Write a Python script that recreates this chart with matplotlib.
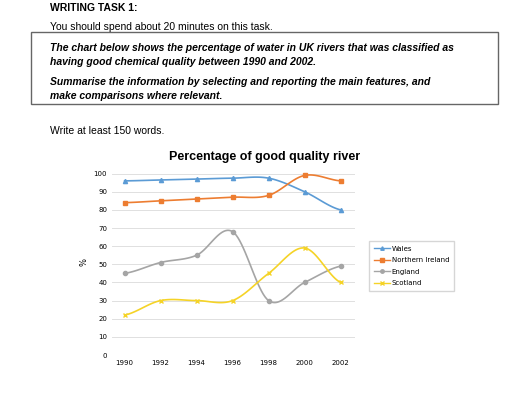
import numpy as np
import matplotlib
matplotlib.use("Agg")
import matplotlib.pyplot as plt
from matplotlib.patches import Rectangle

years = [1990, 1992, 1994, 1996, 1998, 2000, 2002]
wales = [96, 96.5, 97, 97.5, 97.5, 90, 80]
n_ireland = [84, 85, 86, 87, 88, 99, 96]
england = [45, 51, 55, 68, 30, 40, 49]
scotland = [22, 30, 30, 30, 45, 59, 40]
series_names = ["Wales", "Northern Ireland", "England", "Scotland"]
colors = ["#5b9bd5", "#ed7d31", "#a5a5a5", "#f5d327"]
markers = ["^", "s", "o", "x"]

W, H = 512, 417
fig = plt.figure(figsize=(W/100, H/100), dpi=100)
def px(x, y):
    return x / W, 1 - y / H

f = "Liberation Sans"
fig.text(*px(50, 8), "WRITING TASK 1:", fontsize=7.5, fontweight="bold", family=f, va="center")
fig.text(*px(50, 27), "You should spend about 20 minutes on this task.", fontsize=7.5, family=f, va="center")
fig.add_artist(Rectangle(px(31, 104), 467/W, 72/H, fill=False, ec="#666666", lw=1, transform=fig.transFigure))
for y, t in [(48, "The chart below shows the percentage of water in UK rivers that was classified as"),
             (62, "having good chemical quality between 1990 and 2002."),
             (82, "Summarise the information by selecting and reporting the main features, and"),
             (96, "make comparisons where relevant.")]:
    fig.text(*px(50, y), t, fontsize=7.5, fontweight="bold", style="italic", family=f, va="center")
fig.text(*px(50, 131), "Write at least 150 words.", fontsize=7.5, family=f, va="center")

l, r, t, b = 112, 355, 170, 355
ax = fig.add_axes([l/W, 1 - b/H, (r-l)/W, (b-t)/H])
fig.text(*px(265, 157), "Percentage of good quality river", fontsize=9, fontweight="bold", family=f, ha="center", va="center")

def smooth(x, y, n=20):
    x = np.asarray(x, float); y = np.asarray(y, float)
    xs, ys = [], []
    for i in range(len(x) - 1):
        p0 = y[i-1] if i > 0 else y[i]
        p3 = y[i+2] if i + 2 < len(y) else y[i+1]
        p1, p2 = y[i], y[i+1]
        tt = np.linspace(0, 1, n, endpoint=False)
        ys.extend(0.5*((2*p1) + (-p0+p2)*tt + (2*p0-5*p1+4*p2-p3)*tt**2 + (-p0+3*p1-3*p2+p3)*tt**3))
        xs.extend(x[i] + (x[i+1]-x[i])*tt)
    xs.append(x[-1]); ys.append(y[-1])
    return xs, ys

for name, vals, c, m in zip(series_names, [wales, n_ireland, england, scotland], colors, markers):
    sx, sy = smooth(years, vals)
    ax.plot(sx, sy, color=c, lw=1.2)
    ax.plot(years, vals, ls="none", marker=m, color=c, ms=3, mew=1)
    ax.plot([], [], color=c, marker=m, ms=2.5, lw=1, label=name)

ax.set_xlim(1989.3, 2002.8)
ax.set_ylim(0, 102)
ax.set_yticks(range(0, 101, 10))
ax.set_xticks(years)
ax.tick_params(labelsize=5, length=0)
ax.set_ylabel("%", fontsize=6, rotation=90)
ax.grid(axis="y", color="#e0e0e0", lw=0.7)
for s in ax.spines.values():
    s.set_visible(False)
leg = fig.legend(loc="center left", bbox_to_anchor=px(368, 266), fontsize=5, frameon=True,
                 handlelength=2.2, handletextpad=0.3, labelspacing=0.8, borderpad=0.4)
leg.get_frame().set_edgecolor("#cccccc")
leg.get_frame().set_boxstyle("square")
fig.savefig("out.png", dpi=100)
